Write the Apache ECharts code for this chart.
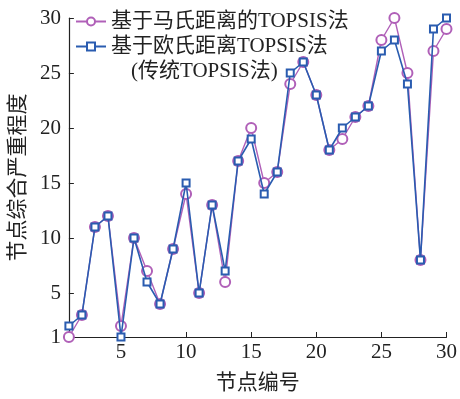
<!DOCTYPE html>
<html>
<head>
<meta charset="utf-8">
<script src="https://cdn.jsdelivr.net/npm/echarts@6/dist/echarts.min.js"></script>
<style>
  html, body { margin: 0; padding: 0; background: #fff; }
  #chart { width: 460px; height: 399px; }
</style>
</head>
<body>
<div id="chart"></div>
<script>
// Node numbers 1..30
const nodes = [1,2,3,4,5,6,7,8,9,10,11,12,13,14,15,16,17,18,19,20,21,22,23,24,25,26,27,28,29,30];
// Severity ranking by Mahalanobis-distance TOPSIS
const mahalanobis = [1,3,11,12,2,10,7,4,9,14,5,13,6,17,20,15,16,24,26,23,18,19,21,22,28,30,25,8,27,29];
// Severity ranking by Euclidean-distance (classic) TOPSIS
const euclidean = [2,3,11,12,1,10,6,4,9,15,5,13,7,17,19,14,16,25,26,23,18,20,21,22,27,28,24,8,29,30];
const xTicks = [5,10,15,20,25,30];
const yTicks = [1,5,10,15,20,25,30];

const seriesNames = ['基于马氏距离的TOPSIS法', '基于欧氏距离TOPSIS法'];
const noteText = '(传统TOPSIS法)';

const FONT = '"Liberation Serif", "Noto Sans CJK SC", serif';
const FS = 21;
const PURPLE = '#B060B8';
const BLUE = '#2A5CB0';

const chart = echarts.init(document.getElementById('chart'), null, { renderer: 'canvas' });

const pair = arr => arr.map((v, i) => [nodes[i], v]);

chart.setOption({
  animation: false,
  backgroundColor: '#fff',
  textStyle: { fontFamily: FONT },
  grid: { left: 66, right: 11, top: 18, bottom: 50, containLabel: false },
  legend: {
    orient: 'vertical',
    left: 70,
    top: 6,
    itemGap: 4,
    itemWidth: 30,
    itemHeight: 10,
    textStyle: { fontFamily: FONT, fontSize: FS, color: '#222' },
    data: seriesNames
  },
  graphic: [{
    type: 'text',
    left: 131,
    top: 61,
    style: { text: noteText, font: FS + 'px ' + FONT, fill: '#222' }
  }],
  xAxis: {
    type: 'value',
    min: 1,
    max: 30,
    name: '节点编号',
    nameLocation: 'middle',
    nameGap: 36,
    nameTextStyle: { fontFamily: FONT, fontSize: FS, color: '#222' },
    axisLine: { lineStyle: { color: '#222', width: 1.2 } },
    axisTick: { inside: true, length: 5, customValues: xTicks, lineStyle: { color: '#222' } },
    axisLabel: { customValues: xTicks, fontFamily: FONT, fontSize: FS, color: '#222', margin: 5 },
    splitLine: { show: false }
  },
  yAxis: {
    type: 'value',
    min: 1,
    max: 30,
    name: '节点综合严重程度',
    nameLocation: 'middle',
    nameGap: 33,
    nameTextStyle: { fontFamily: FONT, fontSize: FS, color: '#222' },
    axisLine: { show: true, lineStyle: { color: '#222', width: 1.2 } },
    axisTick: { show: true, inside: true, length: 5, customValues: yTicks, lineStyle: { color: '#222' } },
    axisLabel: { customValues: yTicks, fontFamily: FONT, fontSize: FS, color: '#222', margin: 8 },
    splitLine: { show: false }
  },
  series: [
    {
      name: seriesNames[0],
      type: 'line',
      data: pair(mahalanobis),
      symbol: 'emptyCircle',
      symbolSize: 10,
      color: PURPLE,
      lineStyle: { width: 1.4, color: PURPLE },
      itemStyle: { color: PURPLE, borderWidth: 1.3 },
      z: 2
    },
    {
      name: seriesNames[1],
      type: 'line',
      data: pair(euclidean),
      symbol: 'emptyRect',
      symbolSize: 7,
      color: BLUE,
      lineStyle: { width: 1.6, color: BLUE },
      itemStyle: { color: BLUE, borderWidth: 1.3 },
      z: 3
    }
  ]
});
</script>
</body>
</html>
